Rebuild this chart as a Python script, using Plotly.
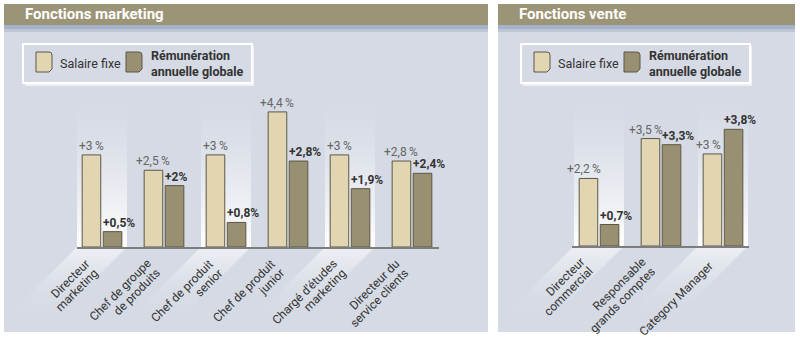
import math
import plotly.graph_objects as go

# ---------------- data ----------------
mk_categories = ["Directeur<br>marketing", "Chef de groupe<br>de produits", "Chef de produit<br>senior",
                 "Chef de produit<br>junior", "Chargé d'études<br>marketing", "Directeur du<br>service clients"]
mk_salaire = [3, 2.5, 3, 4.4, 3, 2.8]
mk_remu = [0.5, 2, 0.8, 2.8, 1.9, 2.4]

ve_categories = ["Directeur<br>commercial", "Responsable<br>grands comptes", "Category Manager"]
ve_salaire = [2.2, 3.5, 3]
ve_remu = [0.7, 3.3, 3.8]

panel_titles = ["Fonctions marketing", "Fonctions vente"]
legend_labels = ["Salaire fixe", "<b>Rémunération<br>annuelle globale</b>"]

# ---------------- style ----------------
W, H = 800, 339
FONT = "Roboto, Arial, sans-serif"
BG = "#d5dae4"
TITLE_BG = "#9c9476"
C_SAL = "#e1d6b1"
C_REM = "#989070"
C_LINE = "#5c5748"
PX_PER_PCT = 30.7
LINE_SP = 13.0
R2 = 1 / math.sqrt(2)


def fx(p):
    return p / W


def fy(p):
    return 1 - p / H


def fmt(v):
    return ("%g" % v).replace(".", ",")


fig = go.Figure()

# decoration axis (pixel coordinates)
fig.update_layout(
    xaxis=dict(domain=[0, 1], range=[0, W], visible=False, fixedrange=True),
    yaxis=dict(domain=[0, 1], range=[H, 0], visible=False, fixedrange=True),
)

shapes = []
annotations = []

panels = [
    dict(x0=4, x1=488, cats=mk_categories, sal=mk_salaire, rem=mk_remu, c0=102, ax0=77, ax1=439, base=247,
         ax="x2", ay="y2", leg=23, light=[0, 2, 4], mx=-4, my=13, sxs=0),
    dict(x0=498, x1=795, cats=ve_categories, sal=ve_salaire, rem=ve_remu, c0=599, ax0=572, ax1=749, base=246,
         ax="x3", ay="y3", leg=521, light=[0, 2], mx=-6, my=12, sxs=-4),
]
SPACING = 62

for k, p in enumerate(panels):
    # panel background
    shapes.append(dict(type="rect", xref="paper", yref="paper", x0=fx(p["x0"]), x1=fx(p["x1"]),
                       y0=fy(332), y1=fy(25), fillcolor=BG, line_width=0, layer="below"))
    # title bar
    shapes.append(dict(type="rect", xref="paper", yref="paper", x0=fx(p["x0"]), x1=fx(p["x1"]),
                       y0=fy(25), y1=fy(4), fillcolor=TITLE_BG, line_width=0, layer="below"))
    # blue strip
    shapes.append(dict(type="rect", xref="paper", yref="paper", x0=fx(p["x0"]), x1=fx(p["x1"]),
                       y0=fy(29), y1=fy(25), fillcolor="#a4b2ca", line_width=0, layer="below"))
    shapes.append(dict(type="rect", xref="paper", yref="paper", x0=fx(p["x0"]), x1=fx(p["x1"]),
                       y0=fy(32), y1=fy(29), fillcolor="#bcc6d7", line_width=0, layer="below"))
    annotations.append(dict(xref="paper", yref="paper", x=fx(p["x0"] + 19), y=fy(14.5), xanchor="left",
                            yanchor="middle", showarrow=False, text="<b>%s</b>" % panel_titles[k],
                            font=dict(family=FONT, size=15, color="white")))

    # light bands behind some groups (vertical gradient) + floor strips
    for i in p["light"]:
        c = p["c0"] + SPACING * i
        bx0, bx1 = c - 25, c + 25
        fig.add_trace(go.Scatter(
            x=[bx0, bx1, bx1, bx0, bx0], y=[88, 88, p["base"], p["base"], 88], mode="lines",
            line=dict(width=0), fill="toself", hoverinfo="skip", showlegend=False,
            fillgradient=dict(type="vertical", start=88, stop=p["base"],
                              colorscale=[[0, "rgba(213,218,228,0)"], [0.5, "rgba(236,238,243,0.6)"],
                                          [1, "rgba(255,255,255,1)"]]),
            xaxis="x", yaxis="y"))
        d = 75
        fig.add_trace(go.Scatter(
            x=[bx0, bx1, bx1 - d, bx0 - d, bx0], y=[p["base"], p["base"], p["base"] + d, p["base"] + d, p["base"]],
            mode="lines", line=dict(width=0), fill="toself", hoverinfo="skip", showlegend=False,
            fillgradient=dict(type="vertical", start=p["base"], stop=p["base"] + d,
                              colorscale=[[0, "rgba(240,242,246,0.9)"], [1, "rgba(213,218,228,0)"]]),
            xaxis="x", yaxis="y"))

    # legend box
    lx = p["leg"]
    shapes.append(dict(type="rect", xref="paper", yref="paper", x0=fx(lx + 2), x1=fx(lx + 231),
                       y0=fy(86), y1=fy(46), fillcolor="#eef0f4", line_width=0, layer="below"))
    shapes.append(dict(type="rect", xref="paper", yref="paper", x0=fx(lx), x1=fx(lx + 229),
                       y0=fy(83), y1=fy(44), fillcolor=BG, line=dict(color="white", width=2), layer="below"))
    for j, (col, ix, tx, fs) in enumerate([(C_SAL, lx + 13, lx + 35, 12.5), (C_REM, lx + 103, lx + 126, 12.5)]):
        path = "M {a},{b} L {c},{b} Q {d},{b} {d},{e} L {d},{f} L {g},{h} L {a},{h} Z".format(
            a=fx(ix), b=fy(52), c=fx(ix + 13), d=fx(ix + 16), e=fy(55), f=fy(69), g=fx(ix + 13), h=fy(72))
        shapes.append(dict(type="path", xref="paper", yref="paper", path=path, fillcolor=col,
                           line=dict(color=C_LINE, width=1), layer="below"))
        annotations.append(dict(xref="paper", yref="paper", x=fx(tx), y=fy(63.5), xanchor="left",
                                yanchor="middle", showarrow=False, text=legend_labels[j], align="left",
                                font=dict(family=FONT, size=fs, color="#333333")))

    # bar axes
    n = len(p["cats"])
    idx = list(range(n))
    r0 = -(p["c0"] - p["ax0"]) / SPACING
    r1 = (p["ax1"] - p["c0"]) / SPACING
    top = 100
    axn = p["ax"][1:]
    fig.update_layout({
        "xaxis" + axn: dict(domain=[fx(p["ax0"]), fx(p["ax1"])], range=[r0, r1], showticklabels=False,
                            ticks="", showgrid=False, zeroline=False, showline=True, linecolor="#7d7d7d",
                            linewidth=1.5, anchor="y" + axn, fixedrange=True),
        "yaxis" + axn: dict(domain=[fy(p["base"]), fy(top)], range=[0, (p["base"] - top) / PX_PER_PCT],
                            visible=False, anchor="x" + axn, fixedrange=True),
    })

    fig.add_trace(go.Bar(x=idx, y=p["sal"], width=0.3, offset=-0.32, xaxis=p["ax"], yaxis=p["ay"],
                         marker=dict(color=C_SAL, line=dict(color=C_LINE, width=1)), showlegend=False,
                         hoverinfo="skip"))
    fig.add_trace(go.Bar(x=idx, y=p["rem"], width=0.3, offset=0.02, xaxis=p["ax"], yaxis=p["ay"],
                         marker=dict(color=C_REM, line=dict(color=C_LINE, width=1)), showlegend=False,
                         hoverinfo="skip"))

    for i in idx:
        annotations.append(dict(xref=p["ax"], yref=p["ay"], x=i - 0.17, y=p["sal"][i], xanchor="center",
                                xshift=p["sxs"], yanchor="bottom", showarrow=False,
                                text="+%s\u2009%%" % fmt(p["sal"][i]),
                                font=dict(family=FONT, size=12, color="#666666")))
        annotations.append(dict(xref=p["ax"], yref=p["ay"], x=i - 0.02, y=p["rem"][i], xanchor="left",
                                yanchor="bottom", showarrow=False, text="<b>+%s%%</b>" % fmt(p["rem"][i]),
                                font=dict(family=FONT, size=12, color="#333333")))
        lines = p["cats"][i].split("<br>")
        nl = len(lines)
        for j, ln in enumerate(lines):
            t = (j - (nl - 1) / 2) * LINE_SP
            dx = p["mx"] + t * R2
            dy = p["my"] + t * R2
            annotations.append(dict(xref=p["ax"], yref=p["ay"], x=i, y=0, xshift=dx, yshift=-dy,
                                    xanchor="right", yanchor="top", showarrow=False, text=ln,
                                    textangle=-45, borderpad=0,
                                    font=dict(family=FONT, size=12, color="#333333")))

fig.update_layout(width=W, height=H, margin=dict(l=0, r=0, t=0, b=0), paper_bgcolor="white",
                  plot_bgcolor="rgba(0,0,0,0)", shapes=shapes, annotations=annotations, showlegend=False)

fig.write_html("out.html")
